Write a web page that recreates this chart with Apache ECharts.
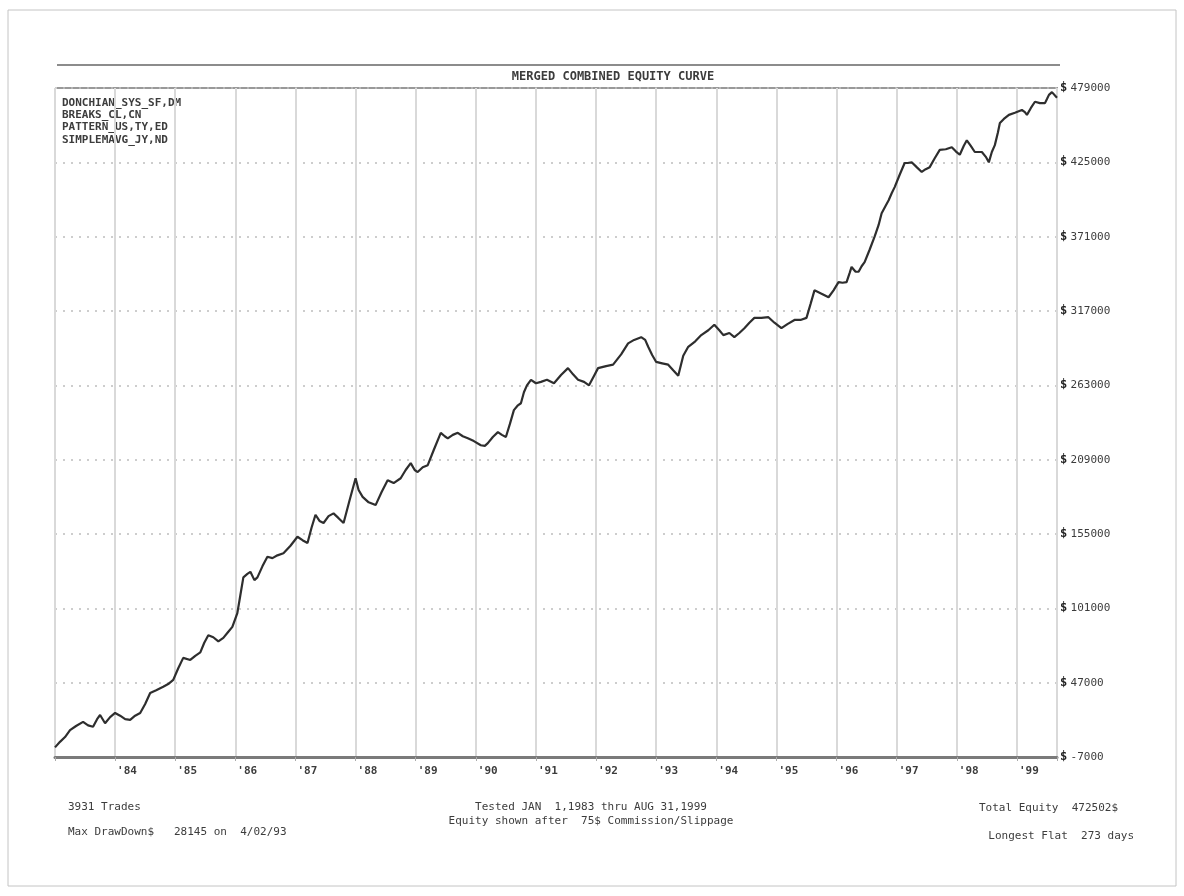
<!DOCTYPE html>
<html>
<head>
<meta charset="utf-8">
<title>Merged Combined Equity Curve</title>
<script src="https://cdn.jsdelivr.net/npm/echarts@6/dist/echarts.min.js"></script>
<style>
  html, body { margin: 0; padding: 0; background: #fff; }
  #chart { width: 1184px; height: 896px; }
</style>
</head>
<body>
<div id="chart"></div>
<script>
// time in decimal years, equity in $
var years = [
  1983.0, 1983.083, 1983.167, 1983.25, 1983.35, 1983.467, 1983.55, 1983.633, 1983.7, 1983.75, 1983.833, 1983.917,
  1984.0, 1984.083, 1984.167, 1984.25, 1984.333, 1984.417, 1984.5, 1984.583, 1984.683, 1984.8, 1984.883, 1984.967,
  1985.05, 1985.133, 1985.25, 1985.333, 1985.417, 1985.483, 1985.55, 1985.633, 1985.717, 1985.8, 1985.883, 1985.95,
  1986.033, 1986.083, 1986.133, 1986.2, 1986.25, 1986.317, 1986.367, 1986.45, 1986.533, 1986.617, 1986.7, 1986.8, 1986.917,
  1987.033, 1987.117, 1987.2, 1987.267, 1987.333, 1987.4, 1987.467, 1987.55, 1987.633, 1987.717, 1987.8, 1987.9,
  1988.0, 1988.05, 1988.117, 1988.217, 1988.333, 1988.433, 1988.533, 1988.633, 1988.75, 1988.833, 1988.917, 1988.983,
  1989.033, 1989.117, 1989.2, 1989.3, 1989.417, 1989.483, 1989.533, 1989.617, 1989.7, 1989.783, 1989.867, 1989.967,
  1990.083, 1990.15, 1990.2, 1990.283, 1990.367, 1990.433, 1990.5, 1990.567, 1990.633, 1990.7, 1990.75, 1990.8, 1990.85, 1990.917,
  1991.0, 1991.083, 1991.183, 1991.3, 1991.417, 1991.533, 1991.617, 1991.7, 1991.8, 1991.883, 1991.967,
  1992.033, 1992.167, 1992.283, 1992.417, 1992.533, 1992.633, 1992.75, 1992.817, 1992.867, 1992.933,
  1993.0, 1993.1, 1993.2, 1993.283, 1993.367, 1993.45, 1993.533, 1993.65, 1993.75, 1993.867, 1993.967,
  1994.05, 1994.117, 1994.217, 1994.3, 1994.383, 1994.467, 1994.55, 1994.633, 1994.75, 1994.867, 1994.967,
  1995.083, 1995.183, 1995.3, 1995.4, 1995.5, 1995.567, 1995.633, 1995.75, 1995.867, 1995.95,
  1996.033, 1996.1, 1996.167, 1996.217, 1996.25, 1996.317, 1996.367, 1996.417, 1996.467, 1996.55, 1996.633, 1996.7,
  1996.75, 1996.817, 1996.867, 1996.917, 1996.967,
  1997.05, 1997.133, 1997.183, 1997.25, 1997.333, 1997.417, 1997.483, 1997.55, 1997.633, 1997.717, 1997.817, 1997.917, 1997.983,
  1998.05, 1998.117, 1998.167, 1998.233, 1998.3, 1998.367, 1998.417, 1998.483, 1998.533, 1998.583, 1998.633, 1998.683,
  1998.717, 1998.783, 1998.867, 1998.967,
  1999.083, 1999.133, 1999.167, 1999.233, 1999.3, 1999.383, 1999.467, 1999.5, 1999.533, 1999.583, 1999.667
];
var equity = [
  0, 4000, 7500, 12500, 15500, 18500, 16000, 15000, 20500, 23500, 17500, 22000,
  25000, 23000, 20500, 20000, 23000, 25000, 31500, 39500, 41500, 44000, 46000, 49000,
  57500, 65000, 63500, 66500, 69000, 76000, 81500, 80000, 77000, 79500, 84000, 87500,
  97500, 110500, 123500, 126000, 127500, 121500, 123500, 131500, 138500, 137500, 139500, 141000, 146500,
  153000, 150500, 148500, 159500, 169000, 164500, 163000, 168000, 170000, 166500, 163000, 179500,
  195500, 187000, 182000, 178000, 176000, 185500, 194000, 192000, 195500, 201500, 206500, 201500,
  200000, 203500, 205000, 216000, 228500, 226000, 224500, 227000, 228500, 226000, 224500, 222500,
  219500, 219000, 221000, 225500, 229000, 227000, 225500, 235000, 245000, 248500, 250000, 258000, 263000, 267000,
  264500, 265500, 267000, 264500, 270500, 275500, 271000, 267000, 265500, 263000, 270000,
  275500, 277000, 278000, 285500, 293500, 296000, 298000, 296000, 291000, 285000,
  280000, 279000, 278000, 274000, 270000, 284500, 291000, 295000, 299500, 303000, 307000,
  303000, 299500, 301000, 298000, 301000, 304500, 308500, 312000, 312000, 312500, 308500,
  304500, 307500, 310500, 310500, 312000, 322000, 332000, 329500, 327000, 332000,
  338000, 337500, 338000, 344500, 349000, 345500, 345500, 349500, 352500, 361500, 371000, 379500,
  388000, 393500, 397500, 402500, 407000,
  416000, 424500, 424500, 425000, 421500, 418000, 420000, 421500, 428000, 434000, 434500, 436000, 433000,
  430500, 437000, 441000, 437000, 432500, 432500, 432500, 429000, 425000, 432500, 437500, 446500,
  453500, 456500, 459500, 461000,
  463000, 461500, 459500, 464500, 469000, 468000, 468000, 471000, 474000, 476000, 472000
];
var yMin = -7000, yMax = 479000, yStep = 54000;
var xMin = 1983, xMax = 1999.667;

var systems = ["DONCHIAN_SYS_SF,DM", "BREAKS_CL,CN", "PATTERN_US,TY,ED", "SIMPLEMAVG_JY,ND"];
var footLeft = ["3931 Trades", "Max DrawDown$   28145 on  4/02/93"];
var footMid = ["Tested JAN  1,1983 thru AUG 31,1999", "Equity shown after  75$ Commission/Slippage"];
var footRight = ["Total Equity  472502$", "Longest Flat  273 days"];

var mono = "DejaVu Sans Mono";
var ink = "#3c3c3c";

var myChart = echarts.init(document.getElementById("chart"));

function txt(x, y, s, align, size, bold) {
  return {
    type: "text", x: x, y: y,
    style: {
      text: s, fill: ink, font: (bold ? "bold " : "") + (size || 11) + "px " + mono,
      textAlign: align || "left", textVerticalAlign: "middle"
    }
  };
}

var graphics = [
  // scanned page border
  { type: "rect", shape: { x: 8, y: 10, width: 1168, height: 876 }, style: { fill: "none", stroke: "#c4c4c4", lineWidth: 1 } },
  // frame round the title
  { type: "line", shape: { x1: 57, y1: 65, x2: 1060, y2: 65 }, style: { stroke: "#666", lineWidth: 1.5 } },
  { type: "line", shape: { x1: 57, y1: 88, x2: 1058, y2: 88 }, style: { stroke: "#777", lineWidth: 1.5 } },
  txt(613, 77, "MERGED COMBINED EQUITY CURVE", "center", 12, true)
];
systems.forEach(function (s, i) {
  graphics.push(txt(62, 103 + i * 12.3, s, "left", 11, true));
});
graphics.push(txt(68, 807, footLeft[0]));
graphics.push(txt(68, 832, footLeft[1]));
graphics.push(txt(591, 807, footMid[0], "center"));
graphics.push(txt(591, 821, footMid[1], "center"));
graphics.push(txt(1118, 808, footRight[0], "right"));
graphics.push(txt(1134, 836, footRight[1], "right"));

var option = {
  backgroundColor: "#ffffff",
  animation: false,
  grid: { left: 55, right: 127, top: 88, bottom: 139 },
  xAxis: {
    type: "value",
    min: xMin,
    max: xMax,
    interval: 1,
    axisLine: { onZero: false, lineStyle: { color: "#7a7a7a", width: 3 } },
    axisTick: { show: true, length: 4, lineStyle: { color: "#aaa" } },
    splitLine: { show: true, lineStyle: { color: "#d9d9d9", width: 2 } },
    axisLabel: {
      margin: 9,
      align: "left",
      padding: [0, 0, 0, 2],
      color: ink,
      fontFamily: mono,
      fontSize: 11,
      fontWeight: "bold",
      showMinLabel: true,
      showMaxLabel: true,
      formatter: function (v) {
        if (Math.abs(v - Math.round(v)) > 1e-6 || Math.round(v) === xMin) return "";
        return "'" + String(Math.round(v)).slice(2);
      }
    }
  },
  yAxis: {
    type: "value",
    position: "right",
    min: yMin,
    max: yMax,
    interval: yStep,
    axisLine: { show: false },
    axisTick: { show: false },
    splitLine: { show: true, lineStyle: { color: "#bdbdbd", width: 1.5, type: [2, 6] } },
    axisLabel: {
      margin: 3,
      formatter: function (v) { return "{d|$} {n|" + v + "}"; },
      rich: {
        d: { fontFamily: mono, fontSize: 12, fontWeight: "bold", color: "#222" },
        n: { fontFamily: mono, fontSize: 11, color: ink }
      }
    }
  },
  series: [
    {
      type: "line",
      data: years.map(function (y, i) { return [y, equity[i]]; }),
      showSymbol: false,
      lineStyle: { color: "#2e2e2e", width: 2.2 },
      z: 5
    }
  ],
  graphic: graphics
};
myChart.setOption(option);
</script>
</body>
</html>
